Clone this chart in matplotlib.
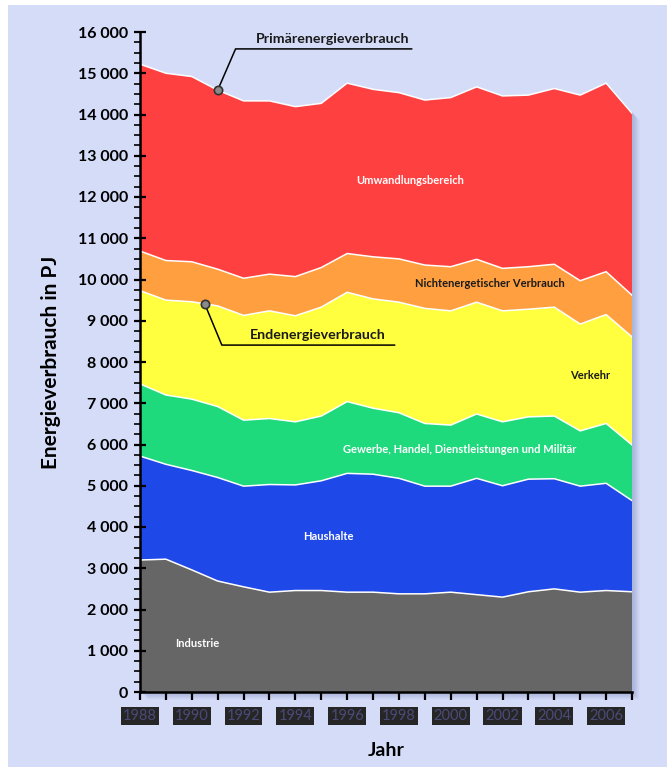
import numpy as np
import matplotlib.pyplot as plt
import matplotlib.transforms as mtransforms
from matplotlib.patches import Rectangle
from matplotlib.ticker import MultipleLocator, FuncFormatter

plt.rcParams['font.family'] = ['Lato', 'DejaVu Sans']

# Daten (PJ), von unten nach oben gestapelt
jahre = np.arange(1988, 2008)
industrie = [3200, 3220, 2960, 2690, 2550, 2420, 2460, 2460, 2420, 2420,
             2380, 2380, 2420, 2360, 2300, 2430, 2500, 2420, 2460, 2430]
haushalte = [2520, 2300, 2410, 2510, 2440, 2610, 2560, 2660, 2880, 2860,
             2800, 2610, 2570, 2820, 2700, 2730, 2670, 2570, 2600, 2210]
gewerbe = [1750, 1680, 1730, 1720, 1600, 1600, 1530, 1570, 1740, 1600,
           1590, 1520, 1480, 1560, 1550, 1510, 1520, 1340, 1450, 1350]
verkehr = [2260, 2300, 2360, 2440, 2540, 2610, 2570, 2640, 2650, 2650,
           2680, 2790, 2770, 2710, 2690, 2610, 2640, 2590, 2640, 2620]
nichtenergetisch = [960, 960, 970, 890, 900, 890, 950, 960, 940, 1020,
                    1050, 1050, 1070, 1040, 1030, 1030, 1040, 1050, 1040, 1010]
umwandlung = [4530, 4540, 4490, 4340, 4300, 4200, 4120, 3980, 4130, 4060,
              4030, 4000, 4100, 4180, 4180, 4160, 4260, 4500, 4570, 4410]

schichten = [industrie, haushalte, gewerbe, verkehr, nichtenergetisch, umwandlung]
farben = ['#666666', '#1f48e8', '#1fd97d', '#ffff40', '#ff9f40', '#ff4040']
namen = ['Industrie', 'Haushalte', 'Gewerbe, Handel, Dienstleistungen und Militär',
         'Verkehr', 'Nichtenergetischer Verbrauch', 'Umwandlungsbereich']

bg = '#d5dcf8'
fig = plt.figure(figsize=(6.67, 7.67), dpi=100, facecolor='white')
fig.patches.append(Rectangle((8 / 667, 0), 1, 1 - 5 / 767, transform=fig.transFigure,
                             facecolor=bg, edgecolor='none', zorder=-10))

ax = fig.add_axes([140 / 667, 75 / 767, 492 / 667, 660 / 767])
ax.patch.set_alpha(0)

summen = np.cumsum(schichten, axis=0)
gesamt = summen[-1]

# weicher Schatten rechts unten, folgt der Gesamtfläche
for i in range(1, 9):
    versatz = mtransforms.offset_copy(ax.transData, fig=fig, x=i * 0.9, y=-i * 0.9,
                                      units='dots')
    ax.fill_between(jahre, 0, gesamt, color='#4a5a9a', alpha=0.04, lw=0,
                    transform=versatz, zorder=0, clip_on=False)

ax.stackplot(jahre, *schichten, colors=farben, linewidth=0, zorder=1)
for s in summen:
    ax.plot(jahre, s, color='white', lw=1.1, zorder=3)

ax.set_xlim(1988, 2007)
ax.set_ylim(0, 16000)

# Achsen
for side in ['top', 'right']:
    ax.spines[side].set_visible(False)
for side in ['left', 'bottom']:
    ax.spines[side].set_linewidth(1.8)
    ax.spines[side].set_zorder(5)

ax.yaxis.set_major_locator(MultipleLocator(1000))
ax.yaxis.set_minor_locator(MultipleLocator(250))
ax.yaxis.set_major_formatter(FuncFormatter(lambda v, p: f"{int(v):,}".replace(",", " ")))
ax.tick_params(axis='y', which='major', direction='inout', length=9, width=1.6,
               labelsize=11.5, pad=4)
ax.tick_params(axis='y', which='minor', direction='out', length=4, width=1.2)
for lbl in ax.get_yticklabels():
    lbl.set_fontweight('bold')

ax.set_xticks(jahre)
ax.set_xticklabels([str(j) if j % 2 == 0 else '' for j in jahre])
ax.tick_params(axis='x', direction='out', length=6, width=1.6, labelsize=10.5,
               labelcolor='#4a4a78', pad=6)
for lbl in ax.get_xticklabels():
    lbl.set_bbox(dict(facecolor='#262626', edgecolor='none', pad=1.5))

ax.set_ylabel('Energieverbrauch in PJ', fontsize=15, fontweight='bold', labelpad=12)
ax.set_xlabel('Jahr', fontsize=14, fontweight='bold', labelpad=14)

# Beschriftung der Flächen
beschriftung = [
    (1990.22, 1164, 'white'),
    (1995.28, 3758, 'white'),
    (2000.34, 5867, 'white'),
    (2005.4, 7661, '#1a1a1a'),
    (2001.5, 9891, '#1a1a1a'),
    (1998.42, 12412, 'white'),
]
for name, (x, y, c) in zip(namen, beschriftung):
    ax.text(x, y, name, ha='center', va='center', fontsize=8, fontweight='bold',
            color=c, zorder=4)

# Hinweislinien
end = summen[3]
px, py = jahre[3], gesamt[3]
ax.plot([px, 1991.69, 1998.49], [py, 15590, 15590], color='black', lw=1.1, zorder=6,
        clip_on=False)
ax.plot(px, py, 'o', ms=6, mfc='#8a8a8a', mec='#333333', mew=1.2, zorder=7)
ax.text(1995.45, 15680, 'Primärenergieverbrauch', ha='center', va='bottom',
        fontsize=10.2, fontweight='bold', color='#1a1a1a')

ex = 1990.5
ey = np.interp(ex, jahre, end)
ax.plot([ex, 1991.16, 1997.83], [ey, 8410, 8410], color='black', lw=1.1, zorder=6)
ax.plot(ex, ey, 'o', ms=6, mfc='#8a8a8a', mec='#333333', mew=1.2, zorder=7)
ax.text(1994.86, 8500, 'Endenergieverbrauch', ha='center', va='bottom',
        fontsize=10.3, fontweight='bold', color='#1a1a1a')

fig.savefig('out.png', dpi=100, facecolor=fig.get_facecolor())
